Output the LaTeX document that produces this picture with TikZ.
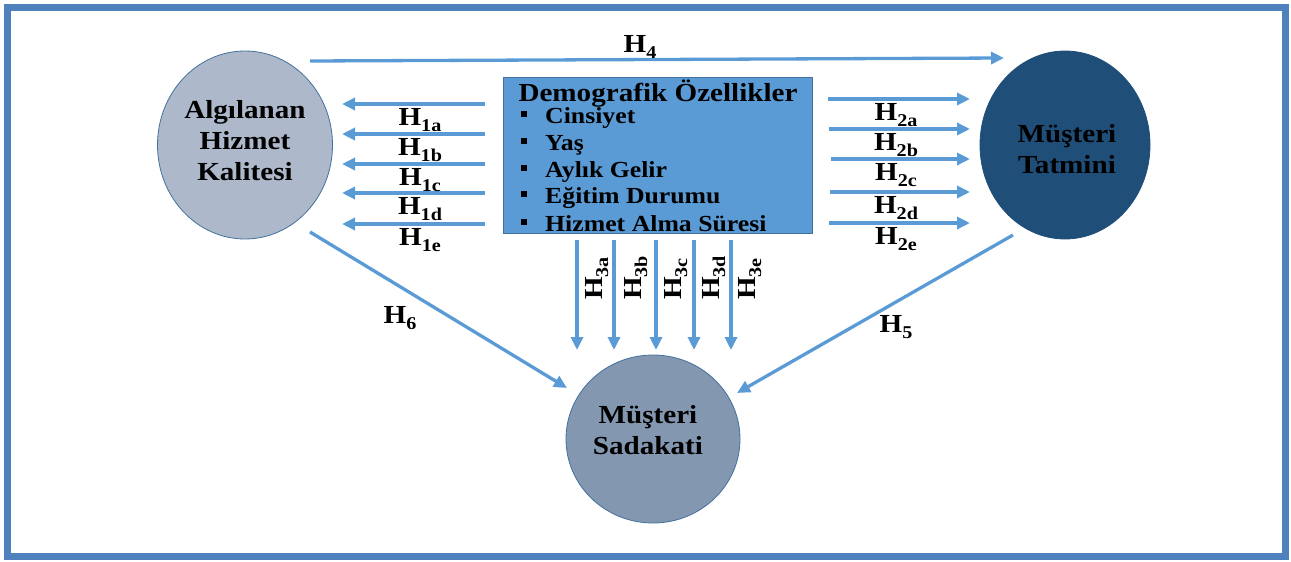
\documentclass[tikz,border=0pt]{standalone}
\usepackage{fontspec}
\setmainfont{Liberation Serif}[FakeStretch=1.12]
\usetikzlibrary{arrows.meta}
\definecolor{frameblue}{HTML}{4F81BD}
\definecolor{arrblue}{HTML}{5B9BD5}
\definecolor{boxblue}{HTML}{5B9BD5}
\definecolor{edgeblue}{HTML}{41719C}
\definecolor{leftfill}{HTML}{ADB9CA}
\definecolor{rightfill}{HTML}{1F4E79}
\definecolor{botfill}{HTML}{8497B0}
\newcommand{\Hs}[1]{H\raisebox{-6pt}{\fontsize{18}{18}\selectfont #1}}
\tikzset{
  arr/.style={draw=arrblue,line width=3.3pt,-{Triangle[length=13pt,width=12pt]}},
  circ/.style={ellipse,draw=edgeblue,line width=0.8pt,inner sep=0pt},
  ctext/.style={font=\bfseries\fontsize{26}{31}\selectfont,align=center,text=black},
  hlab/.style={font=\bfseries\fontsize{26}{26}\selectfont,inner sep=0pt,anchor=base},
}
\usetikzlibrary{shapes.geometric}
\begin{document}
\begin{tikzpicture}[x=1pt,y=-1pt]
\useasboundingbox (0,0) rectangle (1291,562);
\draw[frameblue,line width=7pt] (7,7) rectangle (1285,556);

% ellipses
\node[circ,fill=leftfill,minimum width=175pt,minimum height=188pt] (alg) at (245,145) {};
\node[circ,fill=rightfill,draw=rightfill,minimum width=170pt,minimum height=188pt] (tat) at (1065,145) {};
\node[circ,fill=botfill,minimum width=174pt,minimum height=168pt] (sad) at (653,439) {};

\node[ctext] (algt) at (245,141) {Algılanan\\Hizmet\\Kalitesi};
\node[ctext] (tatt) at (1067,149) {Müşteri\\Tatmini};
\node[ctext] (sadt) at (648,430) {Müşteri\\Sadakati};

% demographic box
\node[draw=edgeblue,fill=boxblue,line width=0.8pt,minimum width=309pt,minimum height=156pt,inner sep=0pt] (dem) at (657.5,155) {};
\node[font=\bfseries\fontsize{26}{26}\selectfont,anchor=base,inner sep=0pt] (demt) at (658,101) {Demografik Özellikler};
\foreach \i/\t/\y in {1/Cinsiyet/123,2/Yaş/150,3/Aylık Gelir/177,4/Eğitim Durumu/203,5/Hizmet Alma Süresi/231}{
  \node[font=\bfseries\fontsize{23}{23}\selectfont,anchor=base west,inner sep=0pt] (it\i) at (545,\y) {\t};
  \fill (521,\y-12) rectangle (527,\y-6);
}

% H4
\coordinate (h4s) at (310,61);
\coordinate (h4e) at (1004,58);
\draw[arr] (h4s) -- (h4e);
\node[hlab] (h4) at (640,52) {\Hs{4}};

% H1 arrows (leftwards)
\foreach \n/\y in {a/104,b/134,c/164,d/193,e/224}{
  \coordinate (h1s\n) at (485,\y);
  \coordinate (h1e\n) at (342,\y);
  \draw[arr] (h1s\n) -- (h1e\n);
}
\foreach \n/\y in {a/125,b/155,c/185,d/214,e/245}{
  \node[hlab] (l1\n) at (420,\y) {\Hs{1\n}};
}

% H2 arrows (rightwards)
\foreach \n/\y/\x in {a/99/828,b/129/829,c/159/831,d/192/830,e/223/829}{
  \coordinate (h2s\n) at (\x,\y);
  \coordinate (h2e\n) at (970,\y);
  \draw[arr] (h2s\n) -- (h2e\n);
}
\foreach \n/\y in {a/120,b/150,c/180,d/213,e/244}{
  \node[hlab] (l2\n) at (896,\y) {\Hs{2\n}};
}

% H3 arrows (down)
\foreach \n/\x in {a/577,b/614,c/656,d/694,e/731}{
  \coordinate (h3s\n) at (\x,240);
  \coordinate (h3e\n) at (\x,350);
  \draw[arr] (h3s\n) -- (h3e\n);
}
\foreach \n/\x in {a/602,b/641,c/681,d/719,e/755}{
  \node[hlab,rotate=90,anchor=base west] (l3\n) at (\x,300) {\Hs{3\n}};
}

% H6, H5
\coordinate (h6s) at (310,232);
\coordinate (h6e) at (567,388);
\draw[arr] (h6s) -- (h6e);
\node[hlab] (l6) at (400,323) {\Hs{6}};
\coordinate (h5s) at (1013,235);
\coordinate (h5e) at (737,393);
\draw[arr] (h5s) -- (h5e);
\node[hlab] (l5) at (896,332) {\Hs{5}};
\end{tikzpicture}
\end{document}
